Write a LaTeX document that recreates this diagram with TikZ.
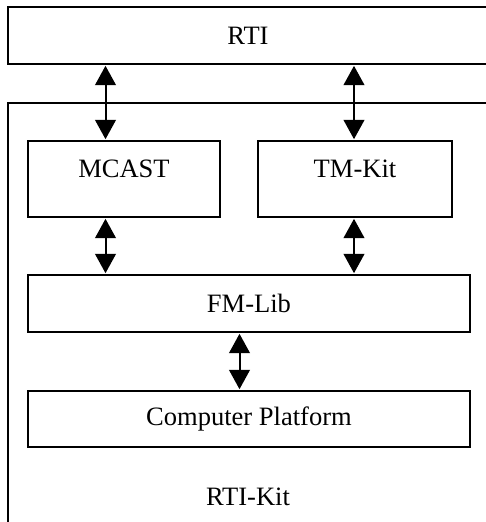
\documentclass[tikz,border=0pt]{standalone}
\usepackage{fontspec}
\setmainfont{Liberation Serif}
\usetikzlibrary{arrows.meta,calc}
\begin{document}
\begin{tikzpicture}[x=0.75pt,y=-0.75pt,
  box/.style={draw, line width=1.5pt, rectangle, inner sep=0pt, font=\fontsize{19.9}{24}\selectfont},
  lbl/.style={inner sep=0pt, anchor=base, font=\fontsize{19.9}{24}\selectfont},
  arr/.style={line width=1.5pt, {Triangle[length=14.5pt,width=15.5pt]}-{Triangle[length=14.5pt,width=15.5pt]}, shorten <=0.6pt, shorten >=0.6pt}]
\clip (0,0) rectangle (486,522);
\fill[white] (0,0) rectangle (486,522);
% outer RTI-Kit frame
\draw[line width=1.5pt] (8,540) -- (8,103) -- (500,103);
\node[lbl] (rtikit) at (248,505) {RTI-Kit};
% boxes
\node[box, minimum width=360pt, minimum height=42.75pt] (rti) at (248,35.5) {RTI};
\node[box, minimum width=144pt, minimum height=57pt] (mcast) at (124,179) {};
\node[lbl] (mcastl) at (124,177.3) {MCAST};
\node[box, minimum width=145.5pt, minimum height=57pt] (tmkit) at (355,179) {};
\node[lbl] (tmkitl) at (355,177.3) {TM-Kit};
\node[box, minimum width=331.5pt, minimum height=42.75pt] (fmlib) at (249,303.5) {FM-Lib};
\node[box, minimum width=331.5pt, minimum height=42pt] (cp) at (249,419) {Computer Platform};
% arrow columns
\coordinate (ca) at (105.5,0);
\coordinate (cb) at (354,0);
\coordinate (cc) at (239.5,0);
\draw[arr] (rti.south -| ca) -- (mcast.north -| ca);
\draw[arr] (rti.south -| cb) -- (tmkit.north -| cb);
\draw[arr] (mcast.south -| ca) -- (fmlib.north -| ca);
\draw[arr] (tmkit.south -| cb) -- (fmlib.north -| cb);
\draw[arr] (fmlib.south -| cc) -- (cp.north -| cc);
\end{tikzpicture}
\end{document}
